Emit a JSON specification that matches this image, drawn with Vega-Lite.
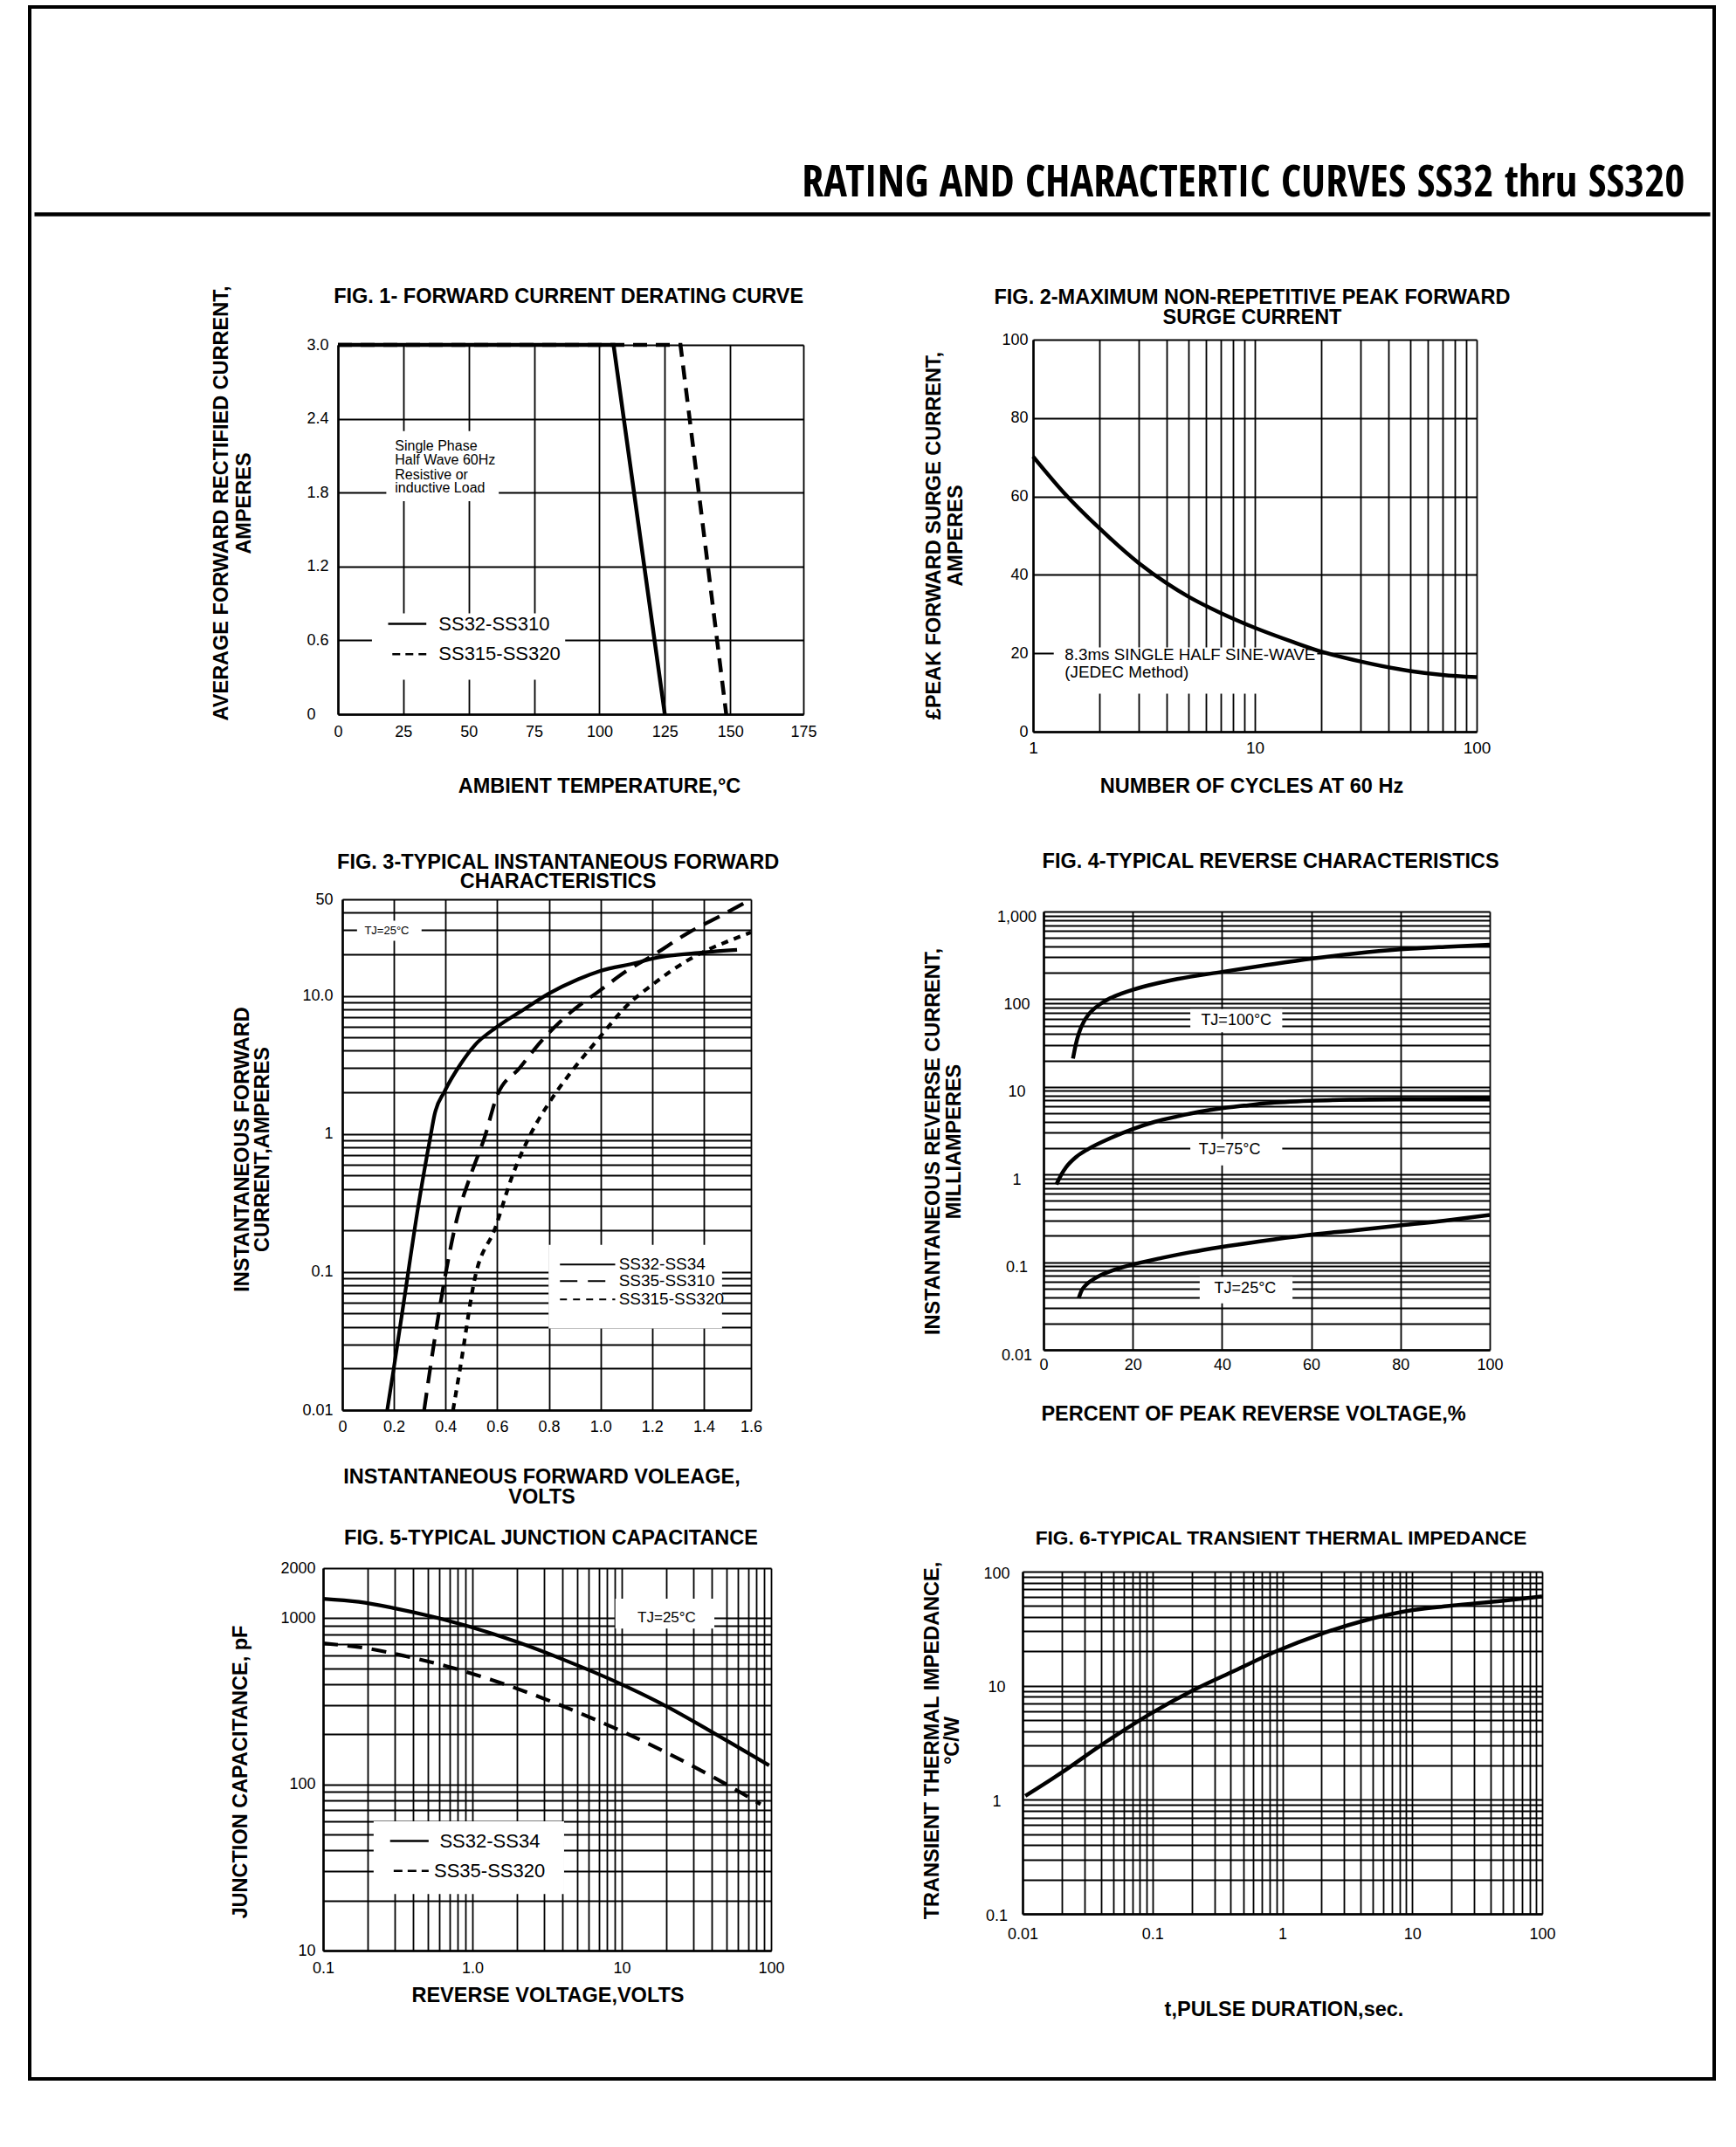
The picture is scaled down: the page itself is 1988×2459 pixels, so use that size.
{
"$schema": "https://vega.github.io/schema/vega-lite/v6.json",
"width": 1929, "height": 2373,
"autosize": {"type": "none"},
"padding": {"left": 34, "top": 8, "right": 25, "bottom": 78},
"background": "white",
"config": {
  "view": {"stroke": "black", "strokeWidth": 4},
  "font": "Liberation Sans",
  "axis": {"domainColor": "black", "domainWidth": 2.5, "ticks": false, "tickSize": 0, "grid": true, "gridColor": "black", "gridOpacity": 1, "gridWidth": 1.8, "labelColor": "black", "labelFont": "Liberation Sans", "labelFontSize": 18, "labelOverlap": false, "labelFlush": false, "labelBound": false, "titleColor": "black", "titleFont": "Liberation Sans", "titleFontWeight": "bold", "titleFontSize": 23.5, "titleBaseline": "alphabetic", "titleAlign": "center", "titleLimit": 1200},
  "text": {"color": "black", "font": "Liberation Sans"},
  "line": {"color": "black"},
  "rule": {"color": "black"}
},
"resolve": {"scale": {"x": "independent", "y": "independent"}, "axis": {"x": "independent", "y": "independent"}},
"layer": [
{
 "data": {"values": [{"p": 0}, {"p": 1}]},
 "mark": {"type": "point", "opacity": 0},
 "encoding": {
   "x": {"field": "p", "type": "quantitative", "scale": {"domain": [0, 1], "range": [5, 1924], "nice": false, "zero": false},
     "axis": {"orient": "top", "offset": -237, "grid": false, "labels": false, "domainWidth": 4.3, "title": "RATING AND CHARACTERTIC CURVES SS32 thru SS320", "titleFont": "Open Sans Condensed, Roboto Condensed, Liberation Sans Narrow, DejaVu Sans Condensed, Noto Sans", "titleFontWeight": "normal", "titleFontSize": 50, "titleAlign": "right", "titleX": 1895, "titleY": -21}}
 }
},
{
 "data": {"values": [
  {"k":"box","x":13,"x2":86.9,"y":0.28,"y2":0.82},
  {"k":"box","x":18.5,"x2":61.5,"y":1.73,"y2":2.3},
  {"k":"s","x":0,"y":3},{"k":"s","x":105.4,"y":3},{"k":"s","x":125,"y":0},
  {"k":"d","x":0,"y":3},{"k":"d","x":131,"y":3},{"k":"d","x":148.5,"y":0},
  {"k":"ls","x":19.2,"x2":33.8,"y":0.734},
  {"k":"ld","x":20.8,"x2":33.8,"y":0.487},
  {"k":"lt","x":38.5,"y":0.734,"t":"SS32-SS310"},
  {"k":"lt","x":38.5,"y":0.487,"t":"SS315-SS320"},
  {"k":"note","x":21.8,"y":2.139,"t":"Single Phase"},
  {"k":"note","x":21.8,"y":2.026,"t":"Half Wave 60Hz"},
  {"k":"note","x":21.8,"y":1.91,"t":"Resistive or"},
  {"k":"note","x":21.8,"y":1.798,"t":"inductive Load"},
  {"k":"title","x":88.2,"y":3.34,"t":"FIG. 1- FORWARD CURRENT DERATING CURVE"}
 ]},
 "encoding": {
   "x": {"field": "x", "type": "quantitative", "scale": {"domain": [0, 178], "range": [353, 886], "nice": false, "zero": false},
     "axis": {"orient": "top", "offset": -810, "grid": true, "values": [0,25,50,75,100,125,150,178], "labelExpr": "datum.value == 178 ? '175' : datum.label", "labelBaseline": "top", "labelPadding": -11, "title": "AMBIENT TEMPERATURE,°C", "titleX": 652, "titleY": 89}},
   "y": {"field": "y", "type": "quantitative", "scale": {"domain": [0, 3], "range": [810, 387], "nice": false, "zero": false},
     "axis": {"orient": "left", "offset": -353, "grid": true, "values": [0,0.6,1.2,1.8,2.4,3], "labelExpr": "datum.value == 0 ? '0' : format(datum.value, '.1f')", "labelAlign": "left", "labelBaseline": "middle", "labelPadding": 36, "title": ["AVERAGE FORWARD RECTIFIED CURRENT,", "AMPERES"], "titleAngle": 270, "titleX": -127, "titleY": 568, "titleLineHeight": 26}}
 },
 "layer": [
   {"transform": [{"filter": "datum.k == 'box'"}], "mark": {"type": "rect", "fill": "white"}, "encoding": {"x2": {"field": "x2"}, "y2": {"field": "y2"}}},
   {"transform": [{"filter": "datum.k == 's'"}], "mark": {"type": "line", "strokeWidth": 4.5}},
   {"transform": [{"filter": "datum.k == 'd'"}], "mark": {"type": "line", "strokeWidth": 4.5, "strokeDash": [16, 10]}},
   {"transform": [{"filter": "datum.k == 'ls'"}], "mark": {"type": "rule", "strokeWidth": 2.5}, "encoding": {"x2": {"field": "x2"}}},
   {"transform": [{"filter": "datum.k == 'ld'"}], "mark": {"type": "rule", "strokeWidth": 2.5, "strokeDash": [9, 6]}, "encoding": {"x2": {"field": "x2"}}},
   {"transform": [{"filter": "datum.k == 'lt'"}], "mark": {"type": "text", "align": "left", "baseline": "middle", "fontSize": 22}, "encoding": {"text": {"field": "t"}}},
   {"transform": [{"filter": "datum.k == 'note'"}], "mark": {"type": "text", "align": "left", "baseline": "alphabetic", "fontSize": 16}, "encoding": {"text": {"field": "t"}}},
   {"transform": [{"filter": "datum.k == 'title'"}], "mark": {"type": "text", "align": "center", "baseline": "alphabetic", "fontSize": 23.5, "fontWeight": "bold"}, "encoding": {"text": {"field": "t"}}}
 ]
},
{
 "data": {"values": [
  {"k":"box","x":1.24,"x2":19.1,"y":9.7,"y2":21.5},
  {"k":"note","x":1.39,"y":18.3,"t":"8.3ms SINGLE HALF SINE-WAVE"},
  {"k":"note","x":1.39,"y":13.7,"t":"(JEDEC Method)"},
  {"k":"c","x":1,"y":70.2},{"k":"c","x":1.37,"y":61.1},{"k":"c","x":2,"y":51.8},{"k":"c","x":3,"y":43},{"k":"c","x":4,"y":37.9},{"k":"c","x":5,"y":34.5},{"k":"c","x":7,"y":30.3},{"k":"c","x":10,"y":26.5},{"k":"c","x":15,"y":22.8},{"k":"c","x":20,"y":20.4},{"k":"c","x":30,"y":17.9},{"k":"c","x":50,"y":15.5},{"k":"c","x":70,"y":14.5},{"k":"c","x":100,"y":13.9},
  {"k":"title","x":9.73,"y":109.1,"t":"FIG. 2-MAXIMUM NON-REPETITIVE PEAK FORWARD"},
  {"k":"title","x":9.73,"y":104.0,"t":"SURGE CURRENT"}
 ]},
 "encoding": {
   "x": {"field": "x", "type": "quantitative", "scale": {"type": "log", "domain": [1, 100], "range": [1149, 1657], "nice": false},
     "axis": {"orient": "top", "offset": -830, "grid": true, "values": [1,2,3,4,5,6,7,8,9,10,20,30,40,50,60,70,80,90,100], "labelExpr": "datum.value == 1 ? '1' : datum.value == 10 ? '10' : datum.value == 100 ? '100' : ''", "labelBaseline": "top", "labelPadding": -9, "labelFontSize": 19, "title": "NUMBER OF CYCLES AT 60 Hz", "titleX": 1399, "titleY": 69}},
   "y": {"field": "y", "type": "quantitative", "scale": {"domain": [0, 100], "range": [830, 381], "nice": false, "zero": false},
     "axis": {"orient": "left", "offset": -1149, "grid": true, "values": [0,20,40,60,80,100], "labelAlign": "right", "labelBaseline": "middle", "labelPadding": 6, "title": ["£PEAK  FORWARD SURGE CURRENT,", "AMPERES"], "titleAngle": 270, "titleX": -107, "titleY": 605, "titleLineHeight": 25}}
 },
 "layer": [
   {"transform": [{"filter": "datum.k == 'box'"}], "mark": {"type": "rect", "fill": "white"}, "encoding": {"x2": {"field": "x2"}, "y2": {"field": "y2"}}},
   {"transform": [{"filter": "datum.k == 'note'"}], "mark": {"type": "text", "align": "left", "baseline": "alphabetic", "fontSize": 18.8}, "encoding": {"text": {"field": "t"}}},
   {"transform": [{"filter": "datum.k == 'c'"}], "mark": {"type": "line", "strokeWidth": 4.5, "interpolate": "monotone"}},
   {"transform": [{"filter": "datum.k == 'title'"}], "mark": {"type": "text", "align": "center", "baseline": "alphabetic", "fontSize": 23.5, "fontWeight": "bold"}, "encoding": {"text": {"field": "t"}}}
 ]
},
{
 "data": {"values": [
  {"k":"box","x":0.799,"x2":1.471,"y":0.039,"y2":0.157},
  {"k":"box","x":0.057,"x2":0.307,"y":25,"y2":35},
  {"k":"s","x":0.174,"y":0.01},{"k":"s","x":0.2,"y":0.0204},{"k":"s","x":0.243,"y":0.0698},{"k":"s","x":0.293,"y":0.29},{"k":"s","x":0.343,"y":0.993},{"k":"s","x":0.357,"y":1.37},{"k":"s","x":0.396,"y":2.03},{"k":"s","x":0.457,"y":3.18},{"k":"s","x":0.514,"y":4.41},{"k":"s","x":0.596,"y":5.9},{"k":"s","x":0.7,"y":7.89},{"k":"s","x":0.799,"y":10.35},{"k":"s","x":0.914,"y":13.2},{"k":"s","x":0.997,"y":15.1},{"k":"s","x":1.143,"y":17.4},{"k":"s","x":1.2,"y":18.6},{"k":"s","x":1.4,"y":20.6},{"k":"s","x":1.529,"y":21.5},
  {"k":"d","x":0.317,"y":0.01},{"k":"d","x":0.357,"y":0.032},{"k":"d","x":0.4,"y":0.0966},{"k":"d","x":0.443,"y":0.239},{"k":"d","x":0.5,"y":0.52},{"k":"d","x":0.55,"y":0.93},{"k":"d","x":0.6,"y":1.9},{"k":"d","x":0.686,"y":2.99},{"k":"d","x":0.771,"y":4.7},{"k":"d","x":0.886,"y":7.64},{"k":"d","x":0.997,"y":10.9},{"k":"d","x":1.1,"y":15.1},{"k":"d","x":1.2,"y":19.5},{"k":"d","x":1.343,"y":28.8},{"k":"d","x":1.486,"y":39.8},{"k":"d","x":1.583,"y":50},
  {"k":"o","x":0.429,"y":0.01},{"k":"o","x":0.457,"y":0.0204},{"k":"o","x":0.514,"y":0.0912},{"k":"o","x":0.593,"y":0.21},{"k":"o","x":0.657,"y":0.488},{"k":"o","x":0.729,"y":0.993},{"k":"o","x":0.8,"y":1.67},{"k":"o","x":0.886,"y":2.8},{"k":"o","x":0.997,"y":5.01},{"k":"o","x":1.1,"y":8.41},{"k":"o","x":1.2,"y":12},{"k":"o","x":1.343,"y":18.3},{"k":"o","x":1.414,"y":21.5},{"k":"o","x":1.486,"y":24.5},{"k":"o","x":1.583,"y":28.8},
  {"k":"ls","x":0.843,"x2":1.057,"y":0.1135},
  {"k":"ld","x":0.843,"x2":1.057,"y":0.0859},
  {"k":"lo","x":0.843,"x2":1.057,"y":0.0634},
  {"k":"lt","x":1.071,"y":0.1135,"t":"SS32-SS34"},
  {"k":"lt","x":1.071,"y":0.0859,"t":"SS35-SS310"},
  {"k":"lt","x":1.071,"y":0.0634,"t":"SS315-SS320"},
  {"k":"tj","x":0.086,"y":29.4,"t":"TJ=25°C"},
  {"k":"title","x":0.836,"y":83.2,"t":"FIG. 3-TYPICAL INSTANTANEOUS FORWARD"},
  {"k":"title","x":0.836,"y":60.4,"t":"CHARACTERISTICS"}
 ]},
 "encoding": {
   "x": {"field": "x", "type": "quantitative", "scale": {"domain": [0, 1.583], "range": [358, 826], "nice": false, "zero": false},
     "axis": {"orient": "top", "offset": -1607, "grid": true, "values": [0,0.2,0.4,0.6,0.8,1,1.2,1.4,1.583], "labelExpr": "datum.value == 0 ? '0' : datum.value == 1.583 ? '1.6' : format(datum.value, '.1f')", "labelBaseline": "top", "labelPadding": -10, "title": ["INSTANTANEOUS FORWARD VOLEAGE,", "VOLTS"], "titleX": 586, "titleY": 83, "titleLineHeight": 23}},
   "y": {"field": "y", "type": "quantitative", "scale": {"type": "log", "domain": [0.01, 50], "range": [1607, 1022], "nice": false},
     "axis": {"orient": "left", "offset": -358, "grid": true, "values": [0.01,0.02,0.03,0.04,0.05,0.06,0.07,0.08,0.09,0.1,0.2,0.3,0.4,0.5,0.6,0.7,0.8,0.9,1,2,3,4,5,6,7,8,9,10,20,30,40,50], "labelExpr": "datum.value == 50 ? '50' : datum.value == 10 ? '10.0' : datum.value == 1 ? '1' : datum.value == 0.1 ? '0.1' : datum.value == 0.01 ? '0.01' : ''", "labelAlign": "right", "labelBaseline": "middle", "labelPadding": 11, "title": ["INSTANTANEOUS FORWARD", "CURRENT,AMPERES"], "titleAngle": 270, "titleX": -108, "titleY": 1308, "titleLineHeight": 23}}
 },
 "layer": [
   {"transform": [{"filter": "datum.k == 'box'"}], "mark": {"type": "rect", "fill": "white"}, "encoding": {"x2": {"field": "x2"}, "y2": {"field": "y2"}}},
   {"transform": [{"filter": "datum.k == 's'"}], "mark": {"type": "line", "strokeWidth": 4.2, "interpolate": "monotone"}},
   {"transform": [{"filter": "datum.k == 'd'"}], "mark": {"type": "line", "strokeWidth": 4.2, "interpolate": "monotone", "strokeDash": [20, 11]}},
   {"transform": [{"filter": "datum.k == 'o'"}], "mark": {"type": "line", "strokeWidth": 4.2, "interpolate": "monotone", "strokeDash": [8, 7]}},
   {"transform": [{"filter": "datum.k == 'ls'"}], "mark": {"type": "rule", "strokeWidth": 2}, "encoding": {"x2": {"field": "x2"}}},
   {"transform": [{"filter": "datum.k == 'ld'"}], "mark": {"type": "rule", "strokeWidth": 2, "strokeDash": [20, 12]}, "encoding": {"x2": {"field": "x2"}}},
   {"transform": [{"filter": "datum.k == 'lo'"}], "mark": {"type": "rule", "strokeWidth": 2, "strokeDash": [8, 7]}, "encoding": {"x2": {"field": "x2"}}},
   {"transform": [{"filter": "datum.k == 'lt'"}], "mark": {"type": "text", "align": "left", "baseline": "middle", "fontSize": 19}, "encoding": {"text": {"field": "t"}}},
   {"transform": [{"filter": "datum.k == 'tj'"}], "mark": {"type": "text", "align": "left", "baseline": "middle", "fontSize": 13}, "encoding": {"text": {"field": "t"}}},
   {"transform": [{"filter": "datum.k == 'title'"}], "mark": {"type": "text", "align": "center", "baseline": "alphabetic", "fontSize": 23.5, "fontWeight": "bold"}, "encoding": {"text": {"field": "t"}}}
 ]
},
{
 "data": {"values": [
  {"k":"box","x":32.9,"x2":53.5,"y":42,"y2":77},
  {"k":"box","x":32.9,"x2":53.5,"y":1.27,"y2":2.54},
  {"k":"box","x":35,"x2":55.8,"y":0.034,"y2":0.068},
  {"k":"a","x":6.6,"y":21},{"k":"a","x":7.2,"y":30},{"k":"a","x":8,"y":42},{"k":"a","x":9,"y":55},{"k":"a","x":10,"y":66},{"k":"a","x":11.5,"y":79},{"k":"a","x":13,"y":90},{"k":"a","x":15,"y":103},{"k":"a","x":17.5,"y":116},{"k":"a","x":20,"y":128},{"k":"a","x":25,"y":150},{"k":"a","x":30,"y":170},{"k":"a","x":40,"y":205},{"k":"a","x":50,"y":245},{"k":"a","x":60,"y":290},{"k":"a","x":70,"y":333},{"k":"a","x":80,"y":370},{"k":"a","x":90,"y":396},{"k":"a","x":100,"y":418},
  {"k":"b","x":2.9,"y":0.77},{"k":"b","x":4,"y":1.0},{"k":"b","x":5,"y":1.2},{"k":"b","x":7.4,"y":1.6},{"k":"b","x":10,"y":1.95},{"k":"b","x":15,"y":2.6},{"k":"b","x":20,"y":3.3},{"k":"b","x":25,"y":4.0},{"k":"b","x":30,"y":4.6},{"k":"b","x":35,"y":5.2},{"k":"b","x":40,"y":5.7},{"k":"b","x":45,"y":6.1},{"k":"b","x":50,"y":6.5},{"k":"b","x":60,"y":6.95},{"k":"b","x":70,"y":7.15},{"k":"b","x":80,"y":7.25},{"k":"b","x":90,"y":7.3},{"k":"b","x":100,"y":7.35},
  {"k":"c","x":7.9,"y":0.039},{"k":"c","x":8.5,"y":0.047},{"k":"c","x":9.5,"y":0.055},{"k":"c","x":11,"y":0.063},{"k":"c","x":13,"y":0.072},{"k":"c","x":15.3,"y":0.08},{"k":"c","x":20,"y":0.094},{"k":"c","x":26.6,"y":0.112},{"k":"c","x":33,"y":0.13},{"k":"c","x":39.5,"y":0.148},{"k":"c","x":48.5,"y":0.173},{"k":"c","x":59,"y":0.203},{"k":"c","x":70,"y":0.232},{"k":"c","x":79,"y":0.26},{"k":"c","x":90,"y":0.298},{"k":"c","x":100,"y":0.345},
  {"k":"tj","x":43.2,"y":57,"t":"TJ=100°C"},
  {"k":"tj","x":41.7,"y":1.9,"t":"TJ=75°C"},
  {"k":"tj","x":45.2,"y":0.05,"t":"TJ=25°C"},
  {"k":"title","x":50.9,"y":3170,"t":"FIG. 4-TYPICAL REVERSE CHARACTERISTICS"}
 ]},
 "encoding": {
   "x": {"field": "x", "type": "quantitative", "scale": {"domain": [0, 100], "range": [1161, 1672], "nice": false, "zero": false},
     "axis": {"orient": "top", "offset": -1538, "grid": true, "values": [0,20,40,60,80,100], "labelBaseline": "top", "labelPadding": -8, "title": "PERCENT OF PEAK REVERSE VOLTAGE,%", "titleX": 1401, "titleY": 80}},
   "y": {"field": "y", "type": "quantitative", "scale": {"type": "log", "domain": [0.01, 1000], "range": [1538, 1036], "nice": false},
     "axis": {"orient": "left", "offset": -1161, "grid": true, "values": [0.01,0.02,0.03,0.04,0.05,0.06,0.07,0.08,0.09,0.1,0.2,0.3,0.4,0.5,0.6,0.7,0.8,0.9,1,2,3,4,5,6,7,8,9,10,20,30,40,50,60,70,80,90,100,200,300,400,500,600,700,800,900,1000], "labelExpr": "datum.value == 1000 ? '1,000' : datum.value == 100 ? '100' : datum.value == 10 ? '10' : datum.value == 1 ? '1' : datum.value == 0.1 ? '0.1' : datum.value == 0.01 ? '0.01' : ''", "labelAlign": "center", "labelBaseline": "middle", "labelPadding": 31, "labelOffset": 6, "title": ["INSTANTANEOUS REVERSE CURRENT,", "MILLIAMPERES"], "titleAngle": 270, "titleX": -120, "titleY": 1299, "titleLineHeight": 24}}
 },
 "layer": [
   {"transform": [{"filter": "datum.k == 'box'"}], "mark": {"type": "rect", "fill": "white"}, "encoding": {"x2": {"field": "x2"}, "y2": {"field": "y2"}}},
   {"transform": [{"filter": "datum.k == 'a'"}], "mark": {"type": "line", "strokeWidth": 4.5, "interpolate": "monotone"}},
   {"transform": [{"filter": "datum.k == 'b'"}], "mark": {"type": "line", "strokeWidth": 4.5, "interpolate": "monotone"}},
   {"transform": [{"filter": "datum.k == 'c'"}], "mark": {"type": "line", "strokeWidth": 4.5, "interpolate": "monotone"}},
   {"transform": [{"filter": "datum.k == 'tj'"}], "mark": {"type": "text", "align": "center", "baseline": "middle", "fontSize": 18}, "encoding": {"text": {"field": "t"}}},
   {"transform": [{"filter": "datum.k == 'title'"}], "mark": {"type": "text", "align": "center", "baseline": "alphabetic", "fontSize": 23.5, "fontWeight": "bold"}, "encoding": {"text": {"field": "t"}}}
 ]
},
{
 "data": {"values": [
  {"k":"box","x":0.218,"x2":4.11,"y":21.9,"y2":60},
  {"k":"box","x":9.06,"x2":41.7,"y":865,"y2":1310},
  {"k":"s","x":0.1,"y":1309},{"k":"s","x":0.174,"y":1253},{"k":"s","x":0.289,"y":1156},{"k":"s","x":0.538,"y":1021},{"k":"s","x":0.946,"y":891},{"k":"s","x":1.97,"y":721},{"k":"s","x":4.11,"y":561},{"k":"s","x":9.06,"y":416},{"k":"s","x":17.9,"y":310},{"k":"s","x":37.2,"y":215},{"k":"s","x":55.2,"y":175},{"k":"s","x":97,"y":130},
  {"k":"d","x":0.1,"y":705},{"k":"d","x":0.195,"y":659},{"k":"d","x":0.342,"y":596},{"k":"d","x":0.675,"y":513},{"k":"d","x":1.33,"y":427},{"k":"d","x":2.93,"y":331},{"k":"d","x":6.8,"y":243},{"k":"d","x":10.7,"y":203},{"k":"d","x":21.2,"y":151},{"k":"d","x":37.2,"y":116},{"k":"d","x":55.2,"y":95.3},{"k":"d","x":85,"y":76},
  {"k":"ls","x":0.281,"x2":0.509,"y":45.6},
  {"k":"ld","x":0.297,"x2":0.509,"y":30.2},
  {"k":"lt","x":0.603,"y":45.6,"t":"SS32-SS34"},
  {"k":"lt","x":0.553,"y":30.2,"t":"SS35-SS320"},
  {"k":"tj","x":20,"y":1007,"t":"TJ=25°C"},
  {"k":"title","x":3.36,"y":2772,"t":"FIG. 5-TYPICAL JUNCTION CAPACITANCE"}
 ]},
 "encoding": {
   "x": {"field": "x", "type": "quantitative", "scale": {"type": "log", "domain": [0.1, 100], "range": [336, 849], "nice": false},
     "axis": {"orient": "top", "offset": -2226, "grid": true, "values": [0.1,0.2,0.3,0.4,0.5,0.6,0.7,0.8,0.9,1,2,3,4,5,6,7,8,9,10,20,30,40,50,60,70,80,90,100], "labelExpr": "datum.value == 0.1 ? '0.1' : datum.value == 1 ? '1.0' : datum.value == 10 ? '10' : datum.value == 100 ? '100' : ''", "labelBaseline": "top", "labelPadding": -11, "title": "REVERSE VOLTAGE,VOLTS", "titleX": 593, "titleY": 58}},
   "y": {"field": "y", "type": "quantitative", "scale": {"type": "log", "domain": [10, 2000], "range": [2226, 1788], "nice": false},
     "axis": {"orient": "left", "offset": -336, "grid": true, "values": [10,20,30,40,50,60,70,80,90,100,200,300,400,500,600,700,800,900,1000,2000], "labelExpr": "datum.value == 2000 ? '2000' : datum.value == 1000 ? '1000' : datum.value == 100 ? '100' : datum.value == 10 ? '10' : ''", "labelAlign": "right", "labelBaseline": "middle", "labelPadding": 9, "title": "JUNCTION CAPACITANCE, pF", "titleAngle": 270, "titleX": -88, "titleY": 2021}}
 },
 "layer": [
   {"transform": [{"filter": "datum.k == 'box'"}], "mark": {"type": "rect", "fill": "white"}, "encoding": {"x2": {"field": "x2"}, "y2": {"field": "y2"}}},
   {"transform": [{"filter": "datum.k == 's'"}], "mark": {"type": "line", "strokeWidth": 4.2, "interpolate": "monotone"}},
   {"transform": [{"filter": "datum.k == 'd'"}], "mark": {"type": "line", "strokeWidth": 4.2, "interpolate": "monotone", "strokeDash": [17, 11]}},
   {"transform": [{"filter": "datum.k == 'ls'"}], "mark": {"type": "rule", "strokeWidth": 2.5}, "encoding": {"x2": {"field": "x2"}}},
   {"transform": [{"filter": "datum.k == 'ld'"}], "mark": {"type": "rule", "strokeWidth": 2.5, "strokeDash": [10, 6]}, "encoding": {"x2": {"field": "x2"}}},
   {"transform": [{"filter": "datum.k == 'lt'"}], "mark": {"type": "text", "align": "left", "baseline": "middle", "fontSize": 22}, "encoding": {"text": {"field": "t"}}},
   {"transform": [{"filter": "datum.k == 'tj'"}], "mark": {"type": "text", "align": "center", "baseline": "middle", "fontSize": 17}, "encoding": {"text": {"field": "t"}}},
   {"transform": [{"filter": "datum.k == 'title'"}], "mark": {"type": "text", "align": "center", "baseline": "alphabetic", "fontSize": 23.5, "fontWeight": "bold"}, "encoding": {"text": {"field": "t"}}}
 ]
},
{
 "data": {"values": [
  {"k":"c","x":0.0105,"y":1.08},{"k":"c","x":0.02,"y":1.73},{"k":"c","x":0.039,"y":2.94},{"k":"c","x":0.097,"y":5.7},{"k":"c","x":0.205,"y":9.1},{"k":"c","x":0.433,"y":13.6},{"k":"c","x":0.913,"y":20.2},{"k":"c","x":1.95,"y":28.2},{"k":"c","x":4.12,"y":36.8},{"k":"c","x":10.1,"y":46},{"k":"c","x":19.9,"y":50.3},{"k":"c","x":49,"y":55.5},{"k":"c","x":100,"y":60.5},
  {"k":"title","x":0.977,"y":172.6,"t":"FIG. 6-TYPICAL TRANSIENT THERMAL IMPEDANCE"}
 ]},
 "encoding": {
   "x": {"field": "x", "type": "quantitative", "scale": {"type": "log", "domain": [0.01, 100], "range": [1137, 1732], "nice": false},
     "axis": {"orient": "top", "offset": -2184, "grid": true, "values": [0.01,0.02,0.03,0.04,0.05,0.06,0.07,0.08,0.09,0.1,0.2,0.3,0.4,0.5,0.6,0.7,0.8,0.9,1,2,3,4,5,6,7,8,9,10,20,30,40,50,60,70,80,90,100], "labelExpr": "datum.value == 0.01 ? '0.01' : datum.value == 0.1 ? '0.1' : datum.value == 1 ? '1' : datum.value == 10 ? '10' : datum.value == 100 ? '100' : ''", "labelBaseline": "top", "labelPadding": -14, "title": "t,PULSE DURATION,sec.", "titleX": 1436, "titleY": 116}},
   "y": {"field": "y", "type": "quantitative", "scale": {"type": "log", "domain": [0.1, 100], "range": [2184, 1792], "nice": false},
     "axis": {"orient": "left", "offset": -1137, "grid": true, "values": [0.1,0.2,0.3,0.4,0.5,0.6,0.7,0.8,0.9,1,2,3,4,5,6,7,8,9,10,20,30,40,50,60,70,80,90,100], "labelExpr": "datum.value == 100 ? '100' : datum.value == 10 ? '10' : datum.value == 1 ? '1' : datum.value == 0.1 ? '0.1' : ''", "labelAlign": "center", "labelBaseline": "middle", "labelPadding": 30, "labelOffset": 2, "title": ["TRANSIENT THERMAL IMPEDANCE,", "°C/W"], "titleAngle": 270, "titleX": -97, "titleY": 1985, "titleLineHeight": 23}}
 },
 "layer": [
   {"transform": [{"filter": "datum.k == 'c'"}], "mark": {"type": "line", "strokeWidth": 4.5, "interpolate": "monotone"}},
   {"transform": [{"filter": "datum.k == 'title'"}], "mark": {"type": "text", "align": "center", "baseline": "alphabetic", "fontSize": 22.7, "fontWeight": "bold"}, "encoding": {"text": {"field": "t"}}}
 ]
}
]
}
